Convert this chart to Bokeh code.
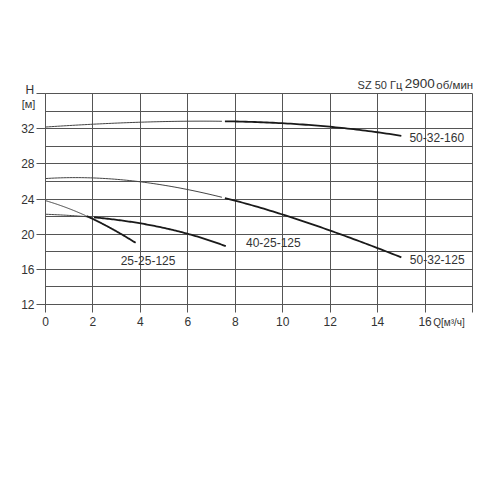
import numpy as np
from bokeh.plotting import figure
from bokeh.models import FixedTicker, Label, Range1d
from bokeh.embed import file_html
from bokeh.resources import INLINE

# ---- data ----
q_160 = [0, 2, 4, 6, 7.5, 8.66, 10, 12, 14, 15]
h_160 = [32.2, 32.5, 32.7, 32.83, 32.88, 32.83, 32.6, 32.15, 31.6, 31.2]
q_5032125 = [0, 2, 4, 6, 8, 10, 12, 14, 15]
h_5032125 = [26.38, 26.28, 25.98, 25.08, 23.9, 22.2, 20.35, 18.4, 17.4]
q_4025125 = [0, 1, 2, 3, 4, 5, 6, 7, 7.6]
h_4025125 = [22.25, 22.15, 21.95, 21.62, 21.2, 20.68, 20.07, 19.25, 18.6]
q_2525125 = [0, 1, 1.7, 2, 3, 3.8]
h_2525125 = [23.8, 22.95, 22.05, 21.7, 20.35, 19.0]
work_start = {"50-32-160": 7.5, "50-32-125": 7.5, "40-25-125": 2.0, "25-25-125": 1.7}
x_ticks = [0, 2, 4, 6, 8, 10, 12, 14, 16, 18]
y_ticks = [12, 16, 20, 24, 28, 32, 36]

FONT = "Liberation Sans"
TXT = "#333333"
GRID = "#555555"

FT, FL, FR, FB = 93, 45, 472, 304   # frame edges on the canvas (px)

p = figure(width=492, height=354, output_backend="svg", toolbar_location=None,
           x_range=Range1d(0, 18), y_range=Range1d(12, 36),
           min_border_left=FL, min_border_right=492 - FR, min_border_top=FT,
           min_border_bottom=354 - FB)
p.background_fill_color = "white"
p.outline_line_color = GRID
p.outline_line_width = 1

p.xaxis.ticker = FixedTicker(ticks=x_ticks)
p.yaxis.ticker = FixedTicker(ticks=y_ticks)
p.xaxis.major_label_overrides = {18: ""}
p.yaxis.major_label_overrides = {36: ""}
p.xgrid.ticker = FixedTicker(ticks=list(range(0, 19, 2)))
p.ygrid.ticker = FixedTicker(ticks=list(range(12, 37, 2)))
for g in (p.xgrid, p.ygrid):
    g.grid_line_color = GRID
    g.grid_line_width = 1
    g.grid_line_alpha = 1.0
for ax in (p.xaxis, p.yaxis):
    ax.axis_line_color = GRID
    ax.major_tick_line_color = GRID
    ax.major_tick_in = 0
    ax.minor_tick_line_color = None
    ax.major_label_text_font = FONT
    ax.major_label_text_font_size = "12px"
    ax.major_label_text_color = TXT
p.yaxis.major_tick_out = 9
p.yaxis.major_label_standoff = 2
p.xaxis.major_tick_out = 8
p.xaxis.major_label_standoff = 4

curves = [("50-32-160", q_160, h_160), ("50-32-125", q_5032125, h_5032125),
          ("40-25-125", q_4025125, h_4025125), ("25-25-125", q_2525125, h_2525125)]
for name, q, h in curves:
    q = np.array(q, dtype=float)
    h = np.array(h, dtype=float)
    qs = np.linspace(q[0], q[-1], 120)
    coeffs = np.polyfit(q, h, 3)
    hs = np.polyval(coeffs, qs)
    s = work_start[name]
    thin = qs <= s
    thick = qs >= s
    p.line(qs[thin], hs[thin], line_color="#444444", line_width=1)
    p.line(qs[thick], hs[thick], line_color="#1a1a1a", line_width=1.8)

def lab(x, y, text, size=12, align="left", baseline="middle", units="data", place=None):
    l = Label(x=x, y=y, text=text, text_font=FONT, text_font_size=f"{size}px",
              text_color=TXT, text_align=align, text_baseline=baseline,
              x_units=units, y_units=units)
    if place:
        p.add_layout(l, place)
    else:
        p.add_layout(l)

lab(15.34, 31.0, "50-32-160")
lab(15.36, 17.08, "50-32-125")
lab(8.45, 19.0, "40-25-125")
lab(3.17, 17.0, "25-25-125")

# texts outside the frame, in the side panel above (labels stack there,
# each one pushed up by the height of the ones before it)
above = [  # (text, size, target canvas x, target canvas y of middle, align)
    ("об/мин", 11.5, 472.7, 84.3, "right"),
    ("2900", 13.5, 434.3, 83.6, "right"),
    ("SZ 50 Гц", 11, 401.7, 80.0, "right"),
    ("H", 12, 29.3, 86.7, "center"),
    ("[м]", 11, 28, 102, "center"),
    ("Q[м³/ч]", 10, 432.7, 321.7, "left"),
]
shift = 0.0
for text, size, tx, ty, align in above:
    lab(tx - FL, FT - ty - shift, text, size=size, align=align, baseline="middle",
        units="screen", place="above")
    shift += size

open("out.html", "w").write(file_html(p, INLINE))
